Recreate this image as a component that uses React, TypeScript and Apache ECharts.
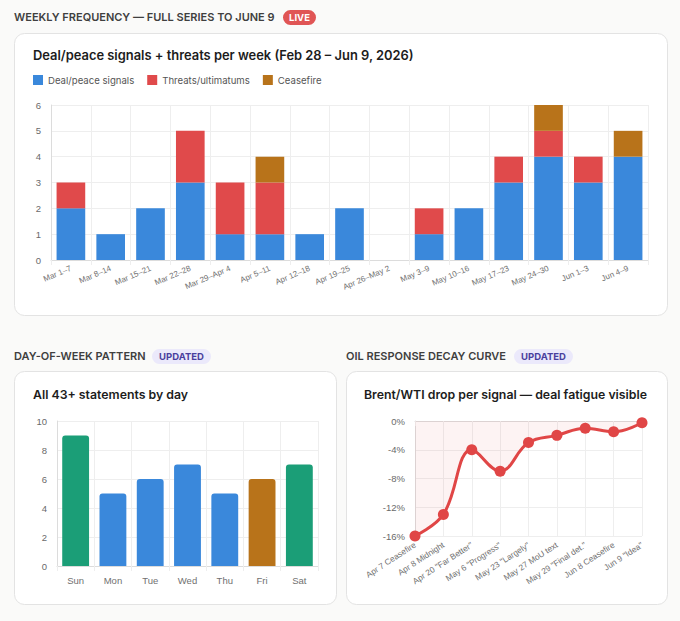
import React, { useEffect, useRef } from "react";
import * as echarts from "echarts";

const weekLabels = [
  "Mar 1–7", "Mar 8–14", "Mar 15–21", "Mar 22–28", "Mar 29–Apr 4", "Apr 5–11",
  "Apr 12–18", "Apr 19–25", "Apr 26–May 2", "May 3–9", "May 10–16", "May 17–23",
  "May 24–30", "Jun 1–3", "Jun 4–9",
];
const dealSignals = [2, 1, 2, 3, 1, 1, 1, 2, 0, 1, 2, 3, 4, 3, 4];
const threats = [1, 0, 0, 2, 2, 2, 0, 0, 0, 1, 0, 1, 1, 1, 0];
const ceasefire = [0, 0, 0, 0, 0, 1, 0, 0, 0, 0, 0, 0, 1, 0, 1];

const dayLabels = ["Sun", "Mon", "Tue", "Wed", "Thu", "Fri", "Sat"];
const dayCounts = [9, 5, 6, 7, 5, 6, 7];

const oilLabels = [
  "Apr 7 Ceasefire", "Apr 8 Midnight", 'Apr 20 "Far Better"', 'May 6 "Progress"',
  'May 23 "Largely"', "May 27 MoU text", 'May 29 "Final det."', "Jun 8 Ceasefire", 'Jun 9 "Idea"',
];
const oilDrops = [-16, -13, -4, -7, -3, -2, -1, -1.5, -0.25];

const BLUE = "#3a88db";
const RED = "#e04a4b";
const ORANGE = "#b8731a";
const GREEN = "#1b9e77";
const SANS = "Inter, 'Noto Sans', sans-serif";
const AX = "'Liberation Sans', Arial, sans-serif";

const axisLineColor = "#dcdcdc";
const splitColor = "#eeeeee";

function catAxis(gridIndex: number, data: string[], extra: any) {
  return {
    type: "category",
    gridIndex,
    data,
    axisLine: { show: true, lineStyle: { color: axisLineColor } },
    axisTick: { show: true, length: 5, lineStyle: { color: splitColor } },
    splitLine: { show: true, lineStyle: { color: splitColor } },
    ...extra,
    axisLabel: { interval: 0, color: "#707070", fontFamily: AX, ...(extra.axisLabel || {}) },
  };
}

function valAxis(gridIndex: number, min: number, max: number, interval: number, fmt?: string) {
  return {
    type: "value",
    gridIndex,
    min,
    max,
    interval,
    axisLine: { show: true, lineStyle: { color: axisLineColor } },
    axisTick: { show: false },
    splitLine: { show: true, lineStyle: { color: splitColor } },
    axisLabel: { color: "#6a6a6a", fontSize: 9.5, fontFamily: AX, margin: 10, formatter: fmt || "{value}" },
  };
}

function card(x: number, y: number, w: number, h: number) {
  return {
    type: "rect",
    z: -10,
    shape: { x: x + 0.5, y: y + 0.5, width: w, height: h, r: 10 },
    style: { fill: "#ffffff", stroke: "#e3e3e3", lineWidth: 1 },
  };
}

function header(x: number, y: number, text: string) {
  return {
    type: "text",
    x,
    y,
    style: { text, fill: "#3f3f3f", font: `600 11px ${SANS}`, verticalAlign: "middle", align: "left" },
  };
}

function badge(x: number, y: number, w: number, text: string, bg: string, fg: string) {
  return {
    type: "group",
    children: [
      { type: "rect", shape: { x, y, width: w, height: 15, r: 7.5 }, style: { fill: bg } },
      {
        type: "text",
        x: x + w / 2,
        y: y + 7.5,
        style: { text, fill: fg, font: `700 9.5px ${SANS}`, align: "center", verticalAlign: "middle" },
      },
    ],
  };
}

function title(x: number, y: number, text: string, size: number) {
  return {
    type: "text",
    x,
    y,
    style: { text, fill: "#1c1c1c", font: `600 ${size}px ${SANS}`, verticalAlign: "middle", align: "left" },
  };
}

function dayColor(label: string) {
  if (label === "Sun" || label === "Sat") return GREEN;
  if (label === "Fri") return ORANGE;
  return BLUE;
}

export default function App() {
  const ref = useRef<HTMLDivElement>(null);
  useEffect(() => {
    const chart = echarts.init(ref.current!, null, { renderer: "svg" });
    const option: any = {
      animation: false,
      backgroundColor: "#fafaf9",
      legend: {
        left: 33,
        top: 75,
        padding: 0,
        icon: "rect",
        itemWidth: 10,
        itemHeight: 10,
        itemGap: 13,
        selectedMode: false,
        textStyle: { fontSize: 9.6, color: "#555", fontFamily: SANS },
        data: ["Deal/peace signals", "Threats/ultimatums", "Ceasefire"],
      },
      grid: [
        { left: 51, top: 105, width: 597, height: 155, containLabel: false, outerBoundsMode: "none" },
        { left: 57, top: 421, width: 261, height: 145, containLabel: false, outerBoundsMode: "none" },
        { left: 415, top: 421, width: 227, height: 115, containLabel: false, outerBoundsMode: "none" },
      ],
      xAxis: [
        catAxis(0, weekLabels, { axisLabel: { rotate: 23, fontSize: 8, margin: 8 } }),
        catAxis(1, dayLabels, { axisLabel: { fontSize: 9.5, margin: 9 } }),
        catAxis(2, oilLabels, { boundaryGap: false, axisLabel: { rotate: 33, fontSize: 8.3, margin: 8 } }),
      ],
      yAxis: [
        valAxis(0, 0, 6, 1),
        valAxis(1, 0, 10, 2),
        valAxis(2, -16, 0, 4, "{value}%"),
      ],
      series: [
        { name: "Deal/peace signals", type: "bar", stack: "w", xAxisIndex: 0, yAxisIndex: 0, barWidth: "72%", itemStyle: { color: BLUE }, data: dealSignals },
        { name: "Threats/ultimatums", type: "bar", stack: "w", xAxisIndex: 0, yAxisIndex: 0, barWidth: "72%", itemStyle: { color: RED }, data: threats },
        { name: "Ceasefire", type: "bar", stack: "w", xAxisIndex: 0, yAxisIndex: 0, barWidth: "72%", itemStyle: { color: ORANGE }, data: ceasefire },
        {
          name: "By day",
          type: "bar",
          xAxisIndex: 1,
          yAxisIndex: 1,
          barWidth: "72%",
          data: dayCounts.map((v, i) => ({ value: v, itemStyle: { color: dayColor(dayLabels[i]), borderRadius: [3, 3, 0, 0] } })),
        },
        {
          name: "Oil drop",
          type: "line",
          xAxisIndex: 2,
          yAxisIndex: 2,
          smooth: 0.4,
          symbol: "circle",
          symbolSize: 11,
          lineStyle: { width: 3, color: "#e04646" },
          itemStyle: { color: "#e04646" },
          areaStyle: { color: "rgba(224,70,70,0.09)" },
          data: oilDrops,
        },
      ],
      graphic: [
        card(14, 33, 653, 282),
        card(14, 371, 322, 233),
        card(346, 371, 321, 233),
        header(14, 17, "WEEKLY FREQUENCY — FULL SERIES TO JUNE 9"),
        badge(283, 10, 33, "LIVE", "#e05555", "#ffffff"),
        title(33, 55, "Deal/peace signals + threats per week (Feb 28 – Jun 9, 2026)", 12.9),
        header(14, 356, "DAY-OF-WEEK PATTERN"),
        badge(152, 349, 59, "UPDATED", "#ebe9fb", "#4a3f9e"),
        header(346, 356, "OIL RESPONSE DECAY CURVE"),
        badge(514, 349, 59, "UPDATED", "#ebe9fb", "#4a3f9e"),
        title(33, 394, "All 43+ statements by day", 12.3),
        title(364, 394, "Brent/WTI drop per signal — deal fatigue visible", 12.3),
      ],
    };
    chart.setOption(option);
    return () => chart.dispose();
  }, []);
  return <div ref={ref} style={{ position: "fixed", left: 0, top: 0, width: 680, height: 621 }} />;
}
